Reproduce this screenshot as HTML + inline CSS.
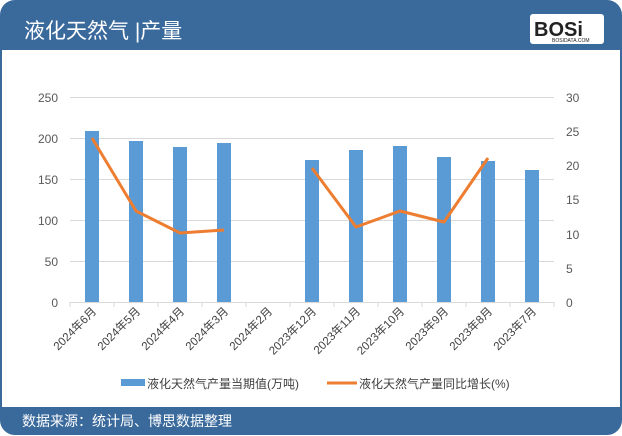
<!DOCTYPE html>
<html><head><meta charset="utf-8"><style>
html,body{margin:0;padding:0;background:#fff;}
svg{display:block;font-family:"Liberation Sans","Noto Sans CJK SC",sans-serif;}
</style></head><body>
<svg width="622" height="436" viewBox="0 0 622 436" xmlns="http://www.w3.org/2000/svg">
<rect x="1" y="1" width="620" height="433" rx="14" fill="#fff" stroke="#3a6a9c" stroke-width="2"/>
<path d="M1 50 V15 A14 14 0 0 1 15 1 H607 A14 14 0 0 1 621 15 V50 Z" fill="#3a6a9c"/>
<text x="24" y="38" font-size="21" fill="#fff">液化天然气 |产量</text>
<rect x="530" y="14" width="74" height="30" rx="3" fill="#fff"/>
<text x="534" y="36" font-size="20" font-weight="bold" fill="#222">BOSi</text>
<text x="552" y="42" font-size="5" fill="#222">BOSIDATA.COM</text>
<path d="M1 407 H621 V420 A14 14 0 0 1 607 434 H15 A14 14 0 0 1 1 420 Z" fill="#3a6a9c"/>
<text x="22" y="426" font-size="14" fill="#fff">数据来源：统计局、博思数据整理</text>
<g stroke="#d9d9d9" stroke-width="1">
<line x1="70" y1="97.5" x2="554" y2="97.5"/><line x1="70" y1="138.5" x2="554" y2="138.5"/>
<line x1="70" y1="179.5" x2="554" y2="179.5"/><line x1="70" y1="220.5" x2="554" y2="220.5"/>
<line x1="70" y1="261.5" x2="554" y2="261.5"/><line x1="70" y1="302.5" x2="554" y2="302.5"/>
<line x1="70" y1="302" x2="70" y2="307"/><line x1="114" y1="302" x2="114" y2="307"/><line x1="158" y1="302" x2="158" y2="307"/><line x1="202" y1="302" x2="202" y2="307"/><line x1="246" y1="302" x2="246" y2="307"/><line x1="290" y1="302" x2="290" y2="307"/><line x1="334" y1="302" x2="334" y2="307"/><line x1="378" y1="302" x2="378" y2="307"/><line x1="422" y1="302" x2="422" y2="307"/><line x1="466" y1="302" x2="466" y2="307"/><line x1="510" y1="302" x2="510" y2="307"/><line x1="554" y1="302" x2="554" y2="307"/>
</g>
<g font-size="12" fill="#595959" text-anchor="end">
<text x="58" y="102">250</text><text x="58" y="143">200</text><text x="58" y="184">150</text><text x="58" y="225">100</text><text x="58" y="266">50</text><text x="58" y="307">0</text>
</g>
<g font-size="12" fill="#595959" text-anchor="start">
<text x="566" y="102">30</text><text x="566" y="136">25</text><text x="566" y="170">20</text><text x="566" y="204">15</text><text x="566" y="239">10</text><text x="566" y="273">5</text><text x="566" y="307">0</text>
</g>
<g fill="#5b9bd5">
<rect x="85" y="131" width="14" height="171"/>
<rect x="129" y="141" width="14" height="161"/>
<rect x="173" y="147" width="14" height="155"/>
<rect x="217" y="143" width="14" height="159"/>
<rect x="305" y="160" width="14" height="142"/>
<rect x="349" y="150" width="14" height="152"/>
<rect x="393" y="146" width="14" height="156"/>
<rect x="437" y="157" width="14" height="145"/>
<rect x="481" y="161" width="14" height="141"/>
<rect x="525" y="170" width="14" height="132"/>
</g>
<polyline points="92,138 136,211 180,233 224,230" fill="none" stroke="#ed7d31" stroke-width="3" stroke-linejoin="round"/>
<polyline points="312,168 356,227 400,211 444,222 488,158" fill="none" stroke="#ed7d31" stroke-width="3" stroke-linejoin="round"/>
<g font-size="11.5" fill="#404040" text-anchor="end">
<text transform="translate(97,312) rotate(-45)">2024年6月</text>
<text transform="translate(141,312) rotate(-45)">2024年5月</text>
<text transform="translate(185,312) rotate(-45)">2024年4月</text>
<text transform="translate(229,312) rotate(-45)">2024年3月</text>
<text transform="translate(273,312) rotate(-45)">2024年2月</text>
<text transform="translate(317,312) rotate(-45)">2023年12月</text>
<text transform="translate(361,312) rotate(-45)">2023年11月</text>
<text transform="translate(405,312) rotate(-45)">2023年10月</text>
<text transform="translate(449,312) rotate(-45)">2023年9月</text>
<text transform="translate(493,312) rotate(-45)">2023年8月</text>
<text transform="translate(537,312) rotate(-45)">2023年7月</text>
</g>
<rect x="121" y="379" width="24" height="7" fill="#5b9bd5"/>
<text x="147" y="388" font-size="12" fill="#404040">液化天然气产量当期值(万吨)</text>
<line x1="327" y1="383" x2="357" y2="383" stroke="#ed7d31" stroke-width="3"/>
<text x="359" y="388" font-size="12" fill="#404040">液化天然气产量同比增长(%)</text>
</svg>
</body></html>
